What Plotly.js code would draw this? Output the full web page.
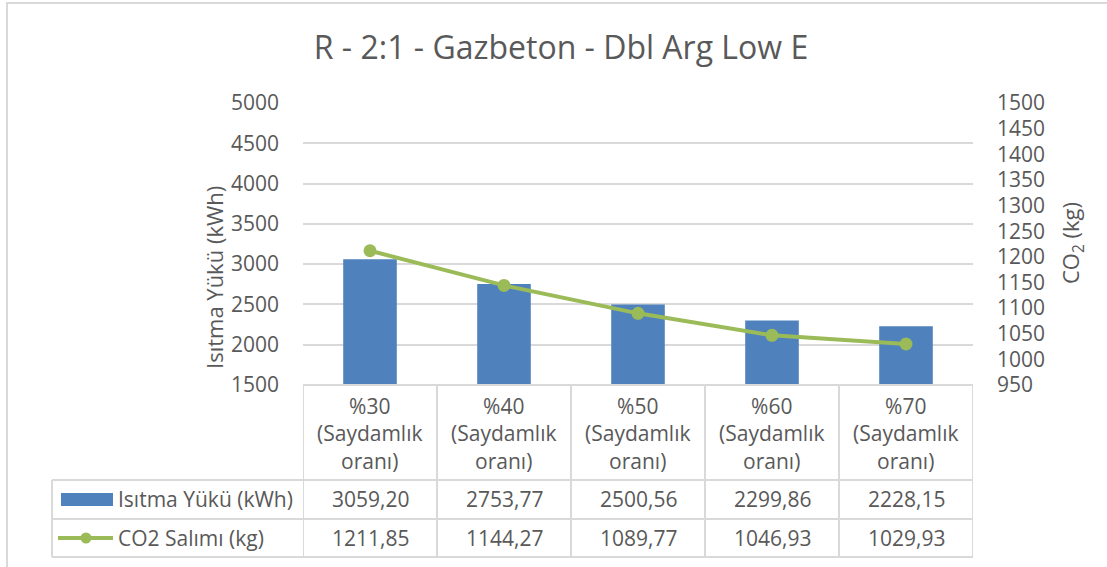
<!DOCTYPE html>
<html>
<head>
<meta charset="utf-8">
<script src="https://cdn.plot.ly/plotly-3.0.1.min.js"></script>
<style>html,body{margin:0;padding:0;background:#fff;}#chart{width:1107px;height:567px;}</style>
</head>
<body>
<div id="chart"></div>
<script>
const categories = ["%30 (Saydamlık oranı)", "%40 (Saydamlık oranı)", "%50 (Saydamlık oranı)", "%60 (Saydamlık oranı)", "%70 (Saydamlık oranı)"];
const headerLabels = ["%30<br>(Saydamlık<br>oranı)", "%40<br>(Saydamlık<br>oranı)", "%50<br>(Saydamlık<br>oranı)", "%60<br>(Saydamlık<br>oranı)", "%70<br>(Saydamlık<br>oranı)"];
const heatingLoad = [3059.20, 2753.77, 2500.56, 2299.86, 2228.15];
const co2Emission = [1211.85, 1144.27, 1089.77, 1046.93, 1029.93];
const seriesNames = ["Isıtma Yükü (kWh)", "CO2 Salımı (kg)"];
const chartTitle = "R - 2:1 - Gazbeton - Dbl Arg Low E";
const yTitle = "Isıtma Yükü (kWh)";
const y2Title = "CO<sub>2</sub> (kg)";

const FONT = "Open Sans, sans-serif";
const TXT = "#595959";
const GRID = "#D9D9D9";
const BLUE = "#4F81BD";
const GREEN = "#9BBB59";

// plot area in pixels
const PL = 303, PR = 973, PT = 103, PB = 385;
const px = x => (x - PL) / (PR - PL);
const py = y => (PB - y) / (PB - PT);

const fmt = v => v.toFixed(2).replace('.', ',');

const traces = [
  {
    type: 'bar', x: categories, y: heatingLoad, name: seriesNames[0],
    marker: {color: BLUE}, width: 0.4, hoverinfo: 'skip'
  },
  {
    type: 'scatter', mode: 'lines+markers', x: categories, y: co2Emission, name: seriesNames[1],
    yaxis: 'y2', line: {color: GREEN, width: 4}, marker: {color: GREEN, size: 13}, hoverinfo: 'skip'
  }
];

const shapes = [];
const lineStyle = {color: GRID, width: 2};
// outer chart border
shapes.push({type: 'rect', xref: 'paper', yref: 'paper', x0: px(7), x1: px(1112), y0: py(3), y1: py(575), line: {color: GRID, width: 2}});
// table horizontal lines
shapes.push({type: 'line', xref: 'paper', yref: 'paper', x0: px(303), x1: px(973), y0: py(385), y1: py(385), line: lineStyle});
[480, 519, 557].forEach(y => shapes.push({type: 'line', xref: 'paper', yref: 'paper', x0: px(52), x1: px(973), y0: py(y), y1: py(y), line: lineStyle}));
// vertical lines
categories.forEach((c, i) => {
  shapes.push({type: 'line', xref: 'x', yref: 'paper', x0: i - 0.5, x1: i - 0.5, y0: py(385), y1: py(557), line: lineStyle});
});
shapes.push({type: 'line', xref: 'x', yref: 'paper', x0: categories.length - 0.5, x1: categories.length - 0.5, y0: py(385), y1: py(557), line: lineStyle});
shapes.push({type: 'line', xref: 'paper', yref: 'paper', x0: px(52), x1: px(52), y0: py(480), y1: py(557), line: lineStyle});
// legend keys
shapes.push({type: 'rect', xref: 'paper', yref: 'paper', x0: px(61), x1: px(113), y0: py(493), y1: py(506), fillcolor: BLUE, line: {width: 0}});
shapes.push({type: 'line', xref: 'paper', yref: 'paper', x0: px(58), x1: px(113), y0: py(538), y1: py(538), line: {color: GREEN, width: 4}});
shapes.push({type: 'circle', xref: 'paper', yref: 'paper', x0: px(80.5), x1: px(91.5), y0: py(532.5), y1: py(543.5), fillcolor: GREEN, line: {width: 0}});

const annotations = [];
const tf = {family: FONT, size: 21, color: TXT};
headerLabels.forEach((t, i) => annotations.push({xref: 'x', yref: 'paper', x: i, y: py(433), text: t, showarrow: false, font: tf, align: 'center', xanchor: 'center', yanchor: 'middle'}));
heatingLoad.forEach((v, i) => annotations.push({xref: 'x', yref: 'paper', x: i, y: py(499), text: fmt(v), showarrow: false, font: tf, xanchor: 'center', yanchor: 'middle'}));
co2Emission.forEach((v, i) => annotations.push({xref: 'x', yref: 'paper', x: i, y: py(538), text: fmt(v), showarrow: false, font: tf, xanchor: 'center', yanchor: 'middle'}));
annotations.push({xref: 'paper', yref: 'paper', x: px(116), y: py(499), text: seriesNames[0], showarrow: false, font: tf, xanchor: 'left', yanchor: 'middle'});
annotations.push({xref: 'paper', yref: 'paper', x: px(116), y: py(538), text: seriesNames[1], showarrow: false, font: tf, xanchor: 'left', yanchor: 'middle'});
annotations.push({xref: 'paper', yref: 'paper', x: px(214), y: py(278), text: yTitle, textangle: -90, showarrow: false, font: {family: FONT, size: 22, color: TXT}, xanchor: 'center', yanchor: 'middle'});
annotations.push({xref: 'paper', yref: 'paper', x: px(1072), y: py(243), text: y2Title, textangle: -90, showarrow: false, font: {family: FONT, size: 22, color: TXT}, xanchor: 'center', yanchor: 'middle'});

const layout = {
  width: 1107, height: 567,
  margin: {l: PL, r: 1107 - PR, t: PT, b: 567 - PB, pad: 0},
  paper_bgcolor: '#fff', plot_bgcolor: '#fff',
  showlegend: false,
  title: {text: chartTitle, font: {family: FONT, size: 32, color: TXT}, xref: 'paper', x: px(561), xanchor: 'center', yref: 'container', y: 1 - 48 / 567, yanchor: 'middle'},
  xaxis: {type: 'category', range: [-0.5, 4.5], showticklabels: false, ticks: '', showgrid: false, zeroline: false, showline: false, fixedrange: true},
  yaxis: {range: [1500, 5000], dtick: 500, tick0: 1500, showgrid: true, gridcolor: GRID, gridwidth: 2, zeroline: false, showline: false, ticks: '',
          tickfont: {family: FONT, size: 21, color: TXT}, ticklabelstandoff: 23},
  yaxis2: {overlaying: 'y', side: 'right', range: [950, 1500], dtick: 50, tick0: 950, showgrid: false, zeroline: false, showline: false, ticks: '',
           tickfont: {family: FONT, size: 21, color: TXT}, ticklabelstandoff: 23},
  bargap: 0.6,
  shapes: shapes,
  annotations: annotations
};

Plotly.newPlot('chart', traces, layout, {staticPlot: true, displayModeBar: false});
</script>
</body>
</html>
